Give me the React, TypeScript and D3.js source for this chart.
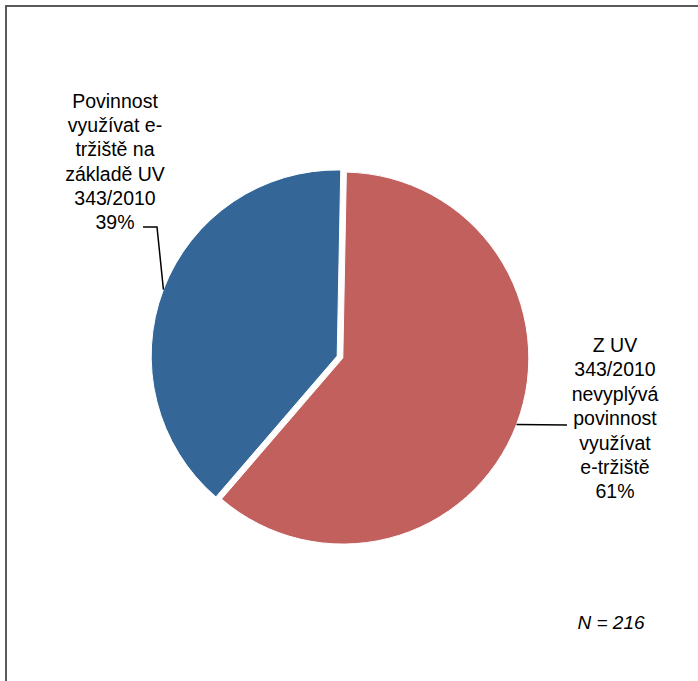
import React from "react";
import * as d3 from "d3";

const categories = [
  ["Z UV", "343/2010", "nevyplývá", "povinnost", "využívat", "e-tržiště"],
  ["Povinnost", "využívat e-", "tržiště na", "základě UV", "343/2010"],
];
const values = [61, 39];
const percentLabels = ["61%", "39%"];
const colors = ["#C2605E", "#346798"];
const noteText = "N = 216";

const W = 698;
const H = 681;
const cx = 340;
const cy = 357;
const R = 186;
const explode = 3;
const startRad = (1.1 * Math.PI) / 180;

// label layout: [center x, first baseline y, leader horizontal points]
const labelLayout = [
  { x: 615, y: 352, lineH: 24.4, hx: 567, hy: 425 },
  { x: 115, y: 108, lineH: 24.2, hx: 143, hy: 227 },
];

export default function App() {
  const pie = d3
    .pie<number>()
    .sort(null)
    .startAngle(startRad)
    .endAngle(startRad + 2 * Math.PI)(values);
  const arc = d3.arc<d3.PieArcDatum<number>>().innerRadius(0).outerRadius(R);
  const font = "'Liberation Sans', Arial, sans-serif";

  return (
    <svg
      width={W}
      height={H}
      style={{ position: "absolute", left: 0, top: 0, background: "#fff" }}
    >
      <rect x={6} y={6} width={W + 10} height={H + 10} fill="#fff" stroke="#5a5a5a" strokeWidth={2} />
      {pie.map((p, i) => {
        const mid = (p.startAngle + p.endAngle) / 2;
        const dx = Math.sin(mid) * explode;
        const dy = -Math.cos(mid) * explode;
        const ex = cx + Math.sin(mid) * (R + explode);
        const ey = cy - Math.cos(mid) * (R + explode);
        const L = labelLayout[i];
        const lines = [...categories[i], percentLabels[i]];
        const pts =
          i === 0
            ? [[ex, ey], [L.hx, L.hy]]
            : [[L.hx, L.hy], [L.hx + 14, L.hy], [ex, ey]];
        return (
          <g key={i}>
            <path
              d={arc(p) || ""}
              transform={`translate(${cx + dx},${cy + dy})`}
              fill={colors[i]}
              stroke="#fff"
              strokeWidth={1}
            />
            <polyline
              points={pts.map((q) => q.join(",")).join(" ")}
              fill="none"
              stroke="#000"
              strokeWidth={1.5}
            />
            <text
              x={L.x}
              y={L.y}
              textAnchor="middle"
              fontFamily={font}
              fontSize={19.5}
              fill="#000"
            >
              {lines.map((t, j) => (
                <tspan key={j} x={L.x} y={L.y + j * L.lineH}>
                  {t}
                </tspan>
              ))}
            </text>
          </g>
        );
      })}
      <text
        x={611}
        y={629}
        textAnchor="middle"
        fontFamily={font}
        fontSize={19}
        fontStyle="italic"
        fill="#000"
      >
        {noteText}
      </text>
    </svg>
  );
}
